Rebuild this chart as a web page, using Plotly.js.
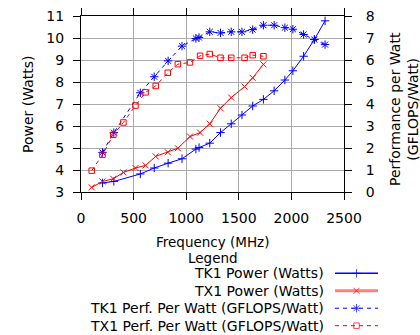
<!DOCTYPE html>
<html>
<head>
<meta charset="utf-8">
<script src="https://cdn.plot.ly/plotly-3.0.1.min.js"></script>
<style>html,body{margin:0;padding:0;background:#fff;}#chart{width:420px;height:335px;}</style>
</head>
<body>
<div id="chart"></div>
<script>
// ---- data ----
const tk1Freq  = [204, 312, 564, 696, 828, 960, 1092, 1122, 1224, 1326, 1428, 1530, 1632, 1734, 1836, 1938, 2014, 2116, 2218, 2320];
const tk1Power = [3.41, 3.48, 3.82, 4.09, 4.31, 4.51, 4.95, 5.02, 5.22, 5.70, 6.10, 6.50, 6.91, 7.21, 7.60, 8.09, 8.51, 9.17, 9.93, 10.78];
const tk1Perf  = [1.80, 2.70, 4.51, 5.24, 5.96, 6.63, 6.98, 7.02, 7.28, 7.23, 7.28, 7.28, 7.38, 7.58, 7.58, 7.47, 7.40, 7.16, 6.93, 6.70];

const tx1Freq  = [102, 204, 307, 403, 518, 614, 710, 825, 921, 1036, 1132, 1224, 1326, 1428, 1555, 1632, 1734];
const tx1Power = [3.21, 3.48, 3.60, 3.89, 4.09, 4.21, 4.62, 4.81, 4.99, 5.52, 5.70, 6.10, 6.81, 7.29, 7.79, 8.19, 8.80];
const tx1Perf  = [0.97, 1.69, 2.60, 3.16, 3.93, 4.53, 4.82, 5.42, 5.81, 5.89, 6.19, 6.27, 6.10, 6.10, 6.10, 6.22, 6.17];

const seriesNames = ["TK1 Power (Watts)", "TX1 Power (Watts)", "TK1 Perf. Per Watt (GFLOPS/Watt)", "TX1 Perf. Per Watt (GFLOPS/Watt)"];
const xTitle = "Frequency (MHz)";
const yTitle = "Power (Watts)";
const y2Title = "Performance per Watt<br>(GFLOPS/Watt)";
const legendTitle = "Legend";

// ---- styles ----
const FONT = "DejaVu Sans";
const BLUE = "#0000ff", RED = "#ff0000";
const W = 420, H = 335;
const px = v => v / W;
const py = v => 1 - v / H;

const styles = [
  {color: BLUE, dash: "solid", symbol: "cross-thin-open", size: 6, lw: 1, legLw: 1.5, legColor: BLUE},
  {color: RED, dash: "solid", symbol: "x-thin-open", size: 6, lw: 1, legLw: 3, legColor: "rgba(255,0,0,0.5)"},
  {color: BLUE, dash: "4px,4px", symbol: "asterisk-open", size: 7, lw: 1, legLw: 1, legColor: BLUE},
  {color: RED, dash: "4px,4px", symbol: "square-open", size: 5.5, lw: 1, legLw: 1, legColor: RED}
];

const seriesX = [tk1Freq, tx1Freq, tk1Freq, tx1Freq];
const seriesY = [tk1Power, tx1Power, tk1Perf, tx1Perf];
const seriesAxis = ["y", "y", "y2", "y2"];

const traces = seriesX.map((xs, i) => ({
  type: "scatter", mode: "lines+markers",
  x: xs, y: seriesY[i], yaxis: seriesAxis[i], xaxis: "x",
  name: seriesNames[i],
  line: {color: styles[i].color, width: styles[i].lw, dash: styles[i].dash},
  marker: {symbol: styles[i].symbol, size: styles[i].size, color: styles[i].color, line: {color: styles[i].color, width: 1}},
  showlegend: false, hoverinfo: "skip"
}));

// custom gnuplot-style legend: samples on their own hidden axis
seriesNames.forEach((n, i) => {
  traces.push({
    type: "scatter", mode: "lines+markers",
    x: [0, 0.5, 1], y: [i + 1, i + 1, i + 1], xaxis: "x3", yaxis: "y3",
    line: {color: styles[i].legColor, width: styles[i].legLw, dash: styles[i].dash},
    marker: {symbol: styles[i].symbol, size: [0, styles[i].size, 0], color: styles[i].color, line: {color: styles[i].color, width: 1}},
    showlegend: false, hoverinfo: "skip"
  });
});

const tickFont = {family: FONT, size: 14, color: "#000"};
const titleFont = {family: FONT, size: 13.5, color: "#000"};
const baseAxis = {
  ticks: "outside", ticklen: 7, tickcolor: "#000", tickwidth: 1,
  showline: true, linecolor: "#000", linewidth: 1,
  zeroline: false, tickfont: tickFont, fixedrange: true
};

const annotations = [
  {text: yTitle, x: px(28), y: py(104), xref: "paper", yref: "paper", textangle: -90, showarrow: false, font: tickFont, xanchor: "center", yanchor: "middle"},
  {text: y2Title, x: px(404), y: py(109), xref: "paper", yref: "paper", textangle: -90, showarrow: false, font: tickFont, xanchor: "center", yanchor: "middle"},
  {text: xTitle, x: px(212.5), y: py(242), xref: "paper", yref: "paper", showarrow: false, font: titleFont, xanchor: "center", yanchor: "middle"},
  {text: legendTitle, x: px(212.5), y: py(258), xref: "paper", yref: "paper", showarrow: false, font: titleFont, xanchor: "center", yanchor: "middle"}
];
seriesNames.forEach((n, i) => {
  annotations.push({text: n, x: px(326), xref: "paper", y: i + 1, yref: "y3", xanchor: "right", yanchor: "middle", showarrow: false, font: tickFont});
});

const layout = {
  width: W, height: H,
  margin: {l: 0, r: 0, t: 0, b: 0, pad: 0},
  paper_bgcolor: "#fff", plot_bgcolor: "#fff",
  font: {family: FONT, size: 14, color: "#000"},
  showlegend: false,
  xaxis: Object.assign({}, baseAxis, {
    domain: [px(81), px(344)], anchor: "y",
    range: [0, 2500], tick0: 0, dtick: 500, mirror: "allticks",
    showgrid: true, gridcolor: "#aaaaaa", gridwidth: 1, ticklabelstandoff: 6
  }),
  yaxis: Object.assign({}, baseAxis, {
    domain: [py(192), py(16)], anchor: "x",
    range: [3, 11], tick0: 3, dtick: 1, mirror: "allticks",
    showgrid: true, gridcolor: "#aaaaaa", gridwidth: 1, ticklabelstandoff: 6
  }),
  yaxis2: Object.assign({}, baseAxis, {
    overlaying: "y", side: "right", anchor: "x",
    range: [0, 8], tick0: 0, dtick: 1, showgrid: false, showline: false, ticklabelstandoff: 11
  }),
  xaxis3: {domain: [px(335), px(378)], range: [0, 1], visible: false, anchor: "y3", fixedrange: true},
  yaxis3: {domain: [py(334), py(265)], range: [4.475, 0.525], visible: false, anchor: "x3", fixedrange: true},
  annotations: annotations
};

Plotly.newPlot("chart", traces, layout, {displayModeBar: false, staticPlot: true});
</script>
</body>
</html>
